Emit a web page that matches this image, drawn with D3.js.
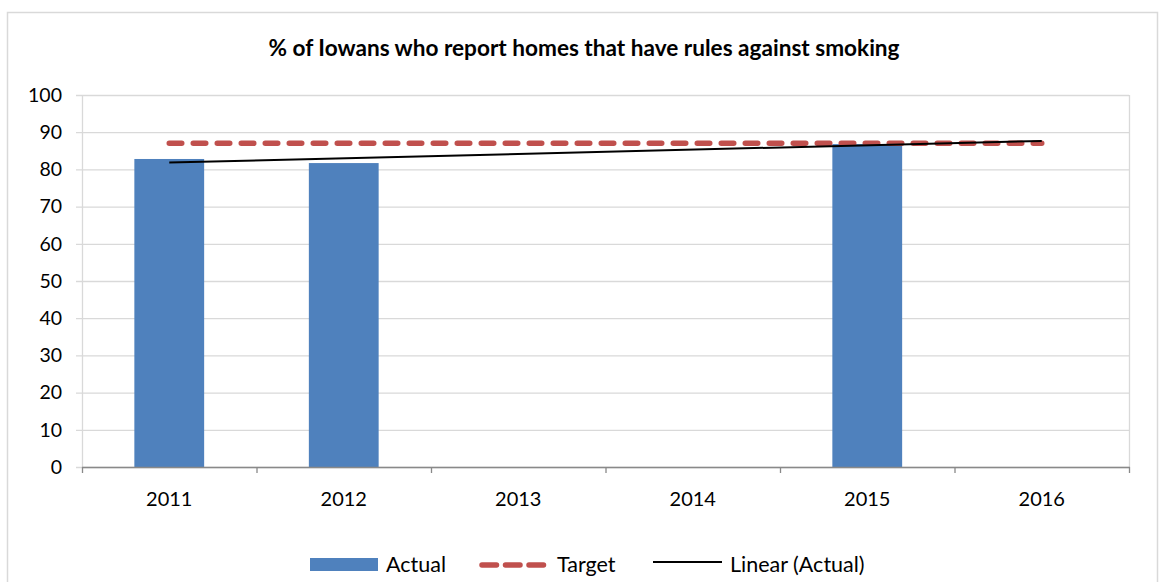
<!DOCTYPE html>
<html><head><meta charset="utf-8">
<script src="https://cdn.jsdelivr.net/npm/d3@7"></script>
<style>body{margin:0;background:#fff;} svg{display:block;font-family:Lato,"Open Sans",sans-serif;}</style>
</head><body>
<svg id="c" width="1160" height="582"></svg>
<script>
const categories = ["2011","2012","2013","2014","2015","2016"];
const actual = [82.8, 81.7, null, null, 86.8, null];
const target = [87, 87, 87, 87, 87, 87];
const yTicks = [0,10,20,30,40,50,60,70,80,90,100];
const title = "% of Iowans who report homes that have rules against smoking";
const legendLabels = ["Actual","Target","Linear (Actual)"];

const svg = d3.select("#c");
svg.append("rect").attr("x",7.5).attr("y",12.5).attr("width",1150).attr("height",580)
  .attr("fill","#fff").attr("stroke","#d9d9d9").attr("stroke-width",1.5);

const L=82, R=1129, T=95, B=467;
const x = d3.scaleBand().domain(categories).range([L,R]).paddingInner(0.6).paddingOuter(0.3);
const xc = d3.scalePoint().domain(categories).range([L,R]).padding(0.5);
const y = d3.scaleLinear().domain([0,100]).range([B,T]);

// gridlines
svg.append("g").selectAll("line").data(yTicks).join("line")
  .attr("x1",L-6).attr("x2",R).attr("y1",d=>y(d)+0.5).attr("y2",d=>y(d)+0.5)
  .attr("stroke","#d9d9d9").attr("stroke-width",1.3);
svg.append("line").attr("x1",L+0.5).attr("x2",L+0.5).attr("y1",T).attr("y2",B).attr("stroke","#d9d9d9").attr("stroke-width",1.3);
svg.append("line").attr("x1",R+0.5).attr("x2",R+0.5).attr("y1",T).attr("y2",B).attr("stroke","#d9d9d9").attr("stroke-width",1.3);

// y labels
const yAxis = d3.axisLeft(y).tickValues(yTicks).tickSize(0).tickPadding(14);
const ya = svg.append("g").attr("transform",`translate(${L-6},0)`).call(yAxis);
ya.select(".domain").remove();
ya.selectAll("text").attr("font-size",19.5).attr("fill","#000").attr("font-family","Lato, sans-serif");

// bars
const data = categories.map((c,i)=>({c, v:actual[i]}));
svg.append("g").selectAll("rect").data(data.filter(d=>d.v!=null)).join("rect")
  .attr("x",d=>x(d.c)).attr("width",x.bandwidth())
  .attr("y",d=>y(d.v)).attr("height",d=>B-y(d.v)).attr("fill","#4f81bd");

// x axis
const xAxis = d3.axisBottom(x).tickSize(0).tickPadding(25);
const xa = svg.append("g").attr("transform",`translate(0,${B})`).call(xAxis);
xa.select(".domain").remove();
xa.selectAll("text").attr("font-size",20).attr("fill","#000").attr("font-family","Lato, sans-serif");
svg.append("line").attr("x1",L).attr("x2",R+1).attr("y1",B+0.5).attr("y2",B+0.5).attr("stroke","#898989").attr("stroke-width",1.3);
const step = (R-L)/categories.length;
svg.append("g").selectAll("line").data(d3.range(categories.length+1)).join("line")
  .attr("x1",i=>L+i*step+0.5).attr("x2",i=>L+i*step+0.5).attr("y1",B).attr("y2",B+6)
  .attr("stroke","#898989").attr("stroke-width",1.3);

// target
svg.append("path").datum(categories.map((c,i)=>[xc(c),y(target[i])]))
  .attr("d",d3.line()).attr("fill","none").attr("stroke","#c0504d").attr("stroke-width",5.5)
  .attr("stroke-dasharray","12.5,11.5").attr("stroke-linecap","round");

// linear trend of actual
const pts = actual.map((v,i)=>[i+1,v]).filter(p=>p[1]!=null);
const mx = d3.mean(pts,p=>p[0]), my = d3.mean(pts,p=>p[1]);
const slope = d3.sum(pts,p=>(p[0]-mx)*(p[1]-my))/d3.sum(pts,p=>(p[0]-mx)**2);
const icpt = my - slope*mx;
const trend = categories.map((c,i)=>[xc(c), y(icpt+slope*(i+1))]);
svg.append("path").datum([trend[0],trend[trend.length-1]]).attr("d",d3.line())
  .attr("fill","none").attr("stroke","#000").attr("stroke-width",2);

// title
svg.append("text").attr("x",584).attr("y",56).attr("text-anchor","middle")
  .attr("font-size",22.6).attr("font-weight","bold").attr("fill","#000").text(title);

// legend
svg.append("rect").attr("x",310).attr("y",558).attr("width",68).attr("height",13).attr("fill","#4f81bd");
svg.append("text").attr("x",386).attr("y",572).attr("font-size",21.5).text(legendLabels[0]);
svg.append("line").attr("x1",482).attr("x2",545).attr("y1",565).attr("y2",565).attr("stroke","#c0504d")
  .attr("stroke-width",5.5).attr("stroke-dasharray","14.5,9").attr("stroke-linecap","round");
svg.append("text").attr("x",557).attr("y",572).attr("font-size",21.5).text(legendLabels[1]);
svg.append("line").attr("x1",653).attr("x2",722).attr("y1",562).attr("y2",562).attr("stroke","#000").attr("stroke-width",2);
svg.append("text").attr("x",730).attr("y",572).attr("font-size",21.5).text(legendLabels[2]);
</script>
</body></html>
